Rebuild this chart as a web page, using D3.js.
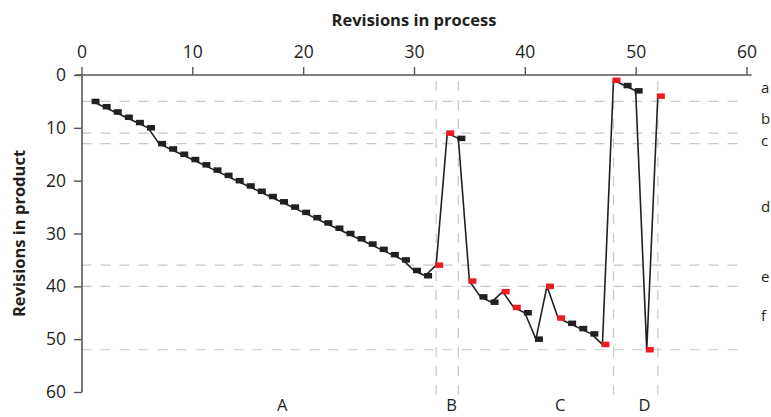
<!DOCTYPE html>
<html>
<head>
<meta charset="utf-8">
<script src="https://cdn.jsdelivr.net/npm/d3@7"></script>
<style>
  html, body { margin: 0; padding: 0; background: #fff; }
  svg { display: block; font-family: "Open Sans", "Noto Sans", sans-serif; }
</style>
</head>
<body>
<svg id="chart" width="771" height="417"></svg>
<script>
// Revisions in process (x) vs revisions in product (y)
const processRevs = [1,2,3,4,5,6,7,8,9,10,11,12,13,14,15,16,17,18,19,20,21,22,23,24,25,26,27,28,29,30,31,32,33,34,35,36,37,38,39,40,41,42,43,44,45,46,47,48,49,50,51,52];
const productRevs = [5,6,7,8,9,10,13,14,15,16,17,18,19,20,21,22,23,24,25,26,27,28,29,30,31,32,33,34,35,37,38,36,11,12,39,42,43,41,44,45,50,40,46,47,48,49,51,1,2,3,52,4];
// Process steps whose marker is highlighted in red
const highlighted = [32,33,35,38,39,42,43,47,48,51,52];

const xTicks = [0,10,20,30,40,50,60];
const yTicks = [0,10,20,30,40,50,60];

// Reference levels (horizontal) and phase boundaries (vertical)
const productLevels = [5,11,13,36,40,52];
const phaseBounds = [32,34,48,52];

// Band labels on the right and phase labels underneath
const bandLabels = ["a","b","c","d","e","f"];
const bandPositions = [2.4,8.2,12.5,25,38.2,45.6];
const phaseLabels = ["A","B","C","D"];
const phasePositions = [18.1,33.4,43.2,50.8];

const svg = d3.select("#chart");
const plotLeft = 81.5, plotRight = 746.5, plotTop = 75, plotBottom = 392;
const fs = 16.5;
const tickFs = 17.5;
const ink = "#231f20";

const x = d3.scaleLinear().domain([0, 60]).range([plotLeft, plotRight]);
const y = d3.scaleLinear().domain([0, 60]).range([plotTop, plotBottom]);

const grid = "#c8c8c8";

// horizontal dashed reference lines
svg.append("g").selectAll("line").data(productLevels).join("line")
  .attr("x1", x(0)).attr("x2", x(60))
  .attr("y1", d => y(d)).attr("y2", d => y(d))
  .attr("stroke", grid).attr("stroke-width", 1.2)
  .attr("stroke-dasharray", "10,9");

// vertical dashed phase boundaries
svg.append("g").selectAll("line").data(phaseBounds).join("line")
  .attr("x1", d => x(d)).attr("x2", d => x(d))
  .attr("y1", y(0)).attr("y2", y(60) + 4)
  .attr("stroke", grid).attr("stroke-width", 1.2)
  .attr("stroke-dasharray", "10,9")
  .attr("stroke-dashoffset", -6);

// axes
const axisColor = "#555";
const gx = svg.append("g").attr("transform", `translate(0,${plotTop})`)
  .call(d3.axisTop(x).tickValues(xTicks).tickSize(8).tickSizeOuter(0).tickPadding(9));
const gy = svg.append("g").attr("transform", `translate(${plotLeft},0)`)
  .call(d3.axisLeft(y).tickValues(yTicks).tickSize(7.5).tickSizeOuter(0).tickPadding(8));
[gx, gy].forEach(g => {
  g.select(".domain").attr("stroke", axisColor).attr("stroke-width", 1.6);
  g.selectAll(".tick line").attr("stroke", axisColor).attr("stroke-width", 1.4);
  g.selectAll(".tick text").attr("fill", ink).attr("font-size", tickFs)
    .attr("font-family", "'Open Sans', sans-serif");
});
gx.select(".domain").attr("d", `M${plotLeft - 6},0H${plotRight + 5}`);

// axis titles
svg.append("text").attr("x", x(30)).attr("y", 26)
  .attr("text-anchor", "middle").attr("font-size", fs).attr("font-weight", "bold")
  .attr("fill", ink).text("Revisions in process");
svg.append("text")
  .attr("transform", `translate(25,${(plotTop + plotBottom) / 2}) rotate(-90)`)
  .attr("text-anchor", "middle").attr("font-size", fs).attr("font-weight", "bold")
  .attr("fill", ink).text("Revisions in product");

// connecting line
const pts = processRevs.map((p, i) => ({ p, v: productRevs[i], red: highlighted.includes(p) }));
svg.append("path").datum(pts)
  .attr("d", d3.line().x(d => x(d.p)).y(d => y(d.v)))
  .attr("fill", "none").attr("stroke", ink).attr("stroke-width", 1.6);

// markers: small bars hung just right of each vertex
const mw = 8, mh = 5.5;
svg.append("g").selectAll("rect").data(pts).join("rect")
  .attr("x", d => x(d.p) - 1).attr("y", d => y(d.v) - mh / 2)
  .attr("width", mw).attr("height", mh)
  .attr("fill", d => d.red ? "#ed1c24" : ink);

// band labels
svg.append("g").selectAll("text").data(bandLabels).join("text")
  .attr("x", 761).attr("y", (d, i) => y(bandPositions[i]))
  .attr("dy", "0.35em").attr("font-size", 15).attr("fill", ink)
  .text(d => d);

// phase labels
svg.append("g").selectAll("text").data(phaseLabels).join("text")
  .attr("x", (d, i) => x(phasePositions[i])).attr("y", 411)
  .attr("text-anchor", "middle")
  .attr("font-size", fs).attr("fill", ink)
  .text(d => d);
</script>
</body>
</html>
